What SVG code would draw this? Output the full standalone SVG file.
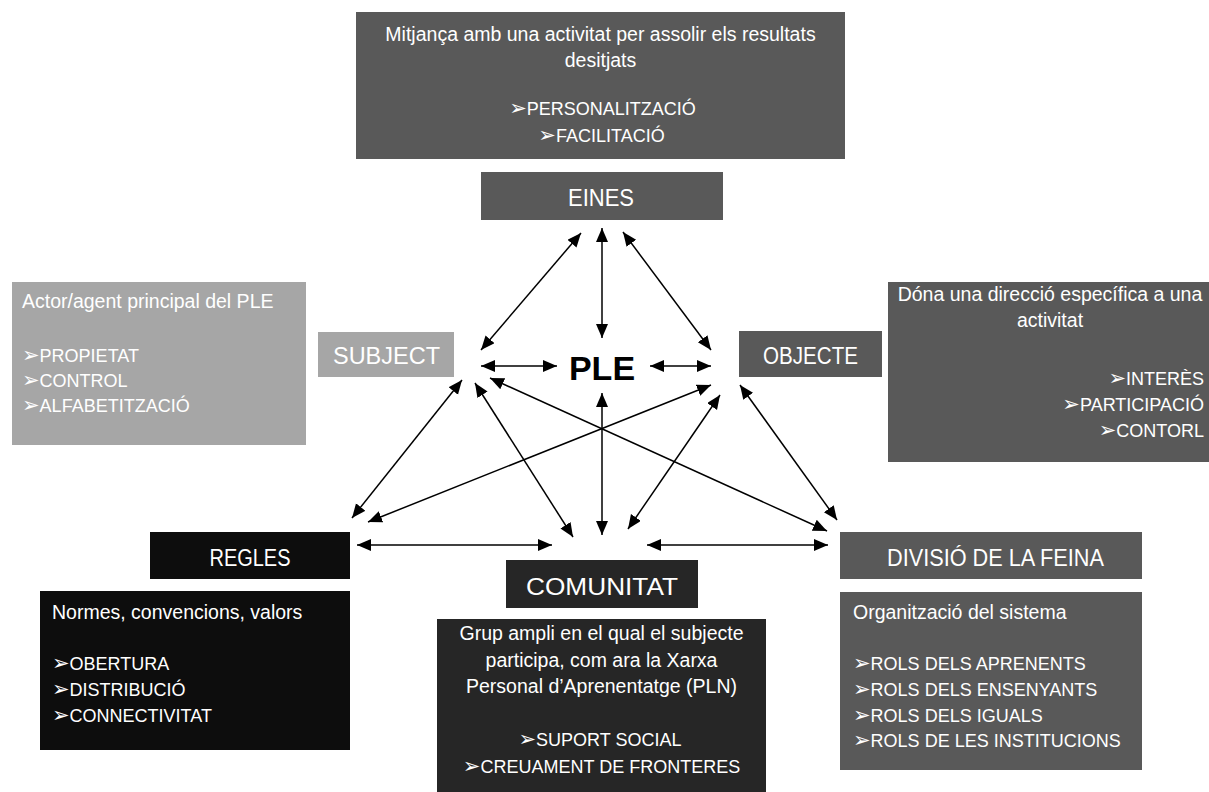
<svg xmlns="http://www.w3.org/2000/svg" width="1209" height="792" viewBox="0 0 1209 792">
<style>
text{font-family:"Liberation Sans",Arial,"DejaVu Sans",sans-serif;fill:#ffffff}
.d{font-size:19.5px}
.k{font-size:18px}
.l{font-size:23px}
.m{text-anchor:middle}
.e{text-anchor:end}
.b{font-family:"DejaVu Sans",sans-serif;font-size:21px}
.c line{stroke:#000;stroke-width:1.5;marker-start:url(#ah);marker-end:url(#ah)}
</style>
<defs>
<marker id="ah" markerUnits="userSpaceOnUse" markerWidth="15" markerHeight="13" refX="14" refY="6" orient="auto-start-reverse" viewBox="0 0 15 13">
<path d="M0,0 L14,6 L0,12 z" fill="#000"/>
</marker>
</defs>
<rect width="1209" height="792" fill="#ffffff"/>

<g id="eines-desc">
<rect x="356" y="12" width="489" height="147" fill="#595959"/>
<text class="d m" x="600.5" y="41">Mitjança amb una activitat per assolir els resultats</text>
<text class="d m" x="600.5" y="67">desitjats</text>
<text class="k m" x="602.5" y="115"><tspan class="b">➢</tspan>PERSONALITZACIÓ</text>
<text class="k m" x="601.5" y="142"><tspan class="b">➢</tspan>FACILITACIÓ</text>
</g>
<g id="eines">
<rect x="481" y="172" width="242" height="48" fill="#595959"/>
<text class="l m" x="601" y="206" textLength="66" lengthAdjust="spacingAndGlyphs">EINES</text>
</g>

<g id="subject-desc">
<rect x="12" y="282" width="294" height="163" fill="#a6a6a6"/>
<text class="d" x="22" y="308">Actor/agent principal del PLE</text>
<text class="k" x="22" y="362"><tspan class="b">➢</tspan>PROPIETAT</text>
<text class="k" x="22" y="387"><tspan class="b">➢</tspan>CONTROL</text>
<text class="k" x="22" y="412"><tspan class="b">➢</tspan>ALFABETITZACIÓ</text>
</g>
<g id="subject">
<rect x="318" y="332" width="136" height="45" fill="#a6a6a6"/>
<text class="l m" x="386.5" y="364" textLength="107" lengthAdjust="spacingAndGlyphs">SUBJECT</text>
</g>

<g id="objecte">
<rect x="739" y="331" width="143" height="46" fill="#595959"/>
<text class="l m" x="810.5" y="364" textLength="95" lengthAdjust="spacingAndGlyphs">OBJECTE</text>
</g>
<g id="objecte-desc">
<rect x="888" y="282" width="321" height="180" fill="#595959"/>
<text class="d m" x="1050" y="301">Dóna una direcció específica a una</text>
<text class="d m" x="1050" y="327">activitat</text>
<text class="k e" x="1204" y="385"><tspan class="b">➢</tspan>INTERÈS</text>
<text class="k e" x="1204" y="411"><tspan class="b">➢</tspan>PARTICIPACIÓ</text>
<text class="k e" x="1204" y="437"><tspan class="b">➢</tspan>CONTORL</text>
</g>

<g id="ple">
<text x="602" y="380" text-anchor="middle" style="font-size:34px;font-weight:bold;fill:#000">PLE</text>
</g>

<g id="regles">
<rect x="150" y="532" width="200" height="47" fill="#0d0d0d"/>
<text class="l m" x="250" y="566" textLength="81" lengthAdjust="spacingAndGlyphs">REGLES</text>
</g>
<g id="regles-desc">
<rect x="40" y="591" width="310" height="159" fill="#0d0d0d"/>
<text class="d" x="52" y="619">Normes, convencions, valors</text>
<text class="k" x="52" y="670"><tspan class="b">➢</tspan>OBERTURA</text>
<text class="k" x="52" y="696"><tspan class="b">➢</tspan>DISTRIBUCIÓ</text>
<text class="k" x="52" y="722"><tspan class="b">➢</tspan>CONNECTIVITAT</text>
</g>

<g id="comunitat">
<rect x="506" y="560" width="192" height="48" fill="#262626"/>
<text class="l m" x="602" y="595" textLength="152" lengthAdjust="spacingAndGlyphs">COMUNITAT</text>
</g>
<g id="comunitat-desc">
<rect x="437" y="619" width="329" height="173" fill="#262626"/>
<text class="d m" x="601.5" y="640">Grup ampli en el qual el subjecte</text>
<text class="d m" x="601.5" y="666.5">participa, com ara la Xarxa</text>
<text class="d m" x="601.5" y="693">Personal d’Aprenentatge (PLN)</text>
<text class="k m" x="600" y="746"><tspan class="b">➢</tspan>SUPORT SOCIAL</text>
<text class="k m" x="601.5" y="772.5"><tspan class="b">➢</tspan>CREUAMENT DE FRONTERES</text>
</g>

<g id="divisio">
<rect x="840" y="532" width="302" height="47" fill="#595959"/>
<text class="l m" x="995.5" y="566" textLength="217" lengthAdjust="spacingAndGlyphs">DIVISIÓ DE LA FEINA</text>
</g>
<g id="divisio-desc">
<rect x="840" y="592" width="302" height="178" fill="#595959"/>
<text class="d" x="853" y="619">Organització del sistema</text>
<text class="k" x="853" y="670"><tspan class="b">➢</tspan>ROLS DELS APRENENTS</text>
<text class="k" x="853" y="696"><tspan class="b">➢</tspan>ROLS DELS ENSENYANTS</text>
<text class="k" x="853" y="722"><tspan class="b">➢</tspan>ROLS DELS IGUALS</text>
<text class="k" x="853" y="747"><tspan class="b">➢</tspan>ROLS DE LES INSTITUCIONS</text>
</g>

<g id="connectors" class="c">
<line x1="581" y1="233" x2="481" y2="350"/>
<line x1="602" y1="228" x2="602" y2="338"/>
<line x1="623" y1="232" x2="711" y2="350"/>
<line x1="481" y1="366" x2="557" y2="366"/>
<line x1="650" y1="366" x2="711" y2="366"/>
<line x1="462" y1="380" x2="352" y2="518"/>
<line x1="475" y1="383" x2="573" y2="537"/>
<line x1="490" y1="378" x2="827" y2="531"/>
<line x1="711" y1="385" x2="368" y2="522"/>
<line x1="602" y1="393" x2="602" y2="535"/>
<line x1="720" y1="395" x2="628" y2="529"/>
<line x1="740" y1="385" x2="837" y2="520"/>
<line x1="357" y1="545" x2="552" y2="545"/>
<line x1="647" y1="545" x2="828" y2="545"/>
</g>
</svg>
